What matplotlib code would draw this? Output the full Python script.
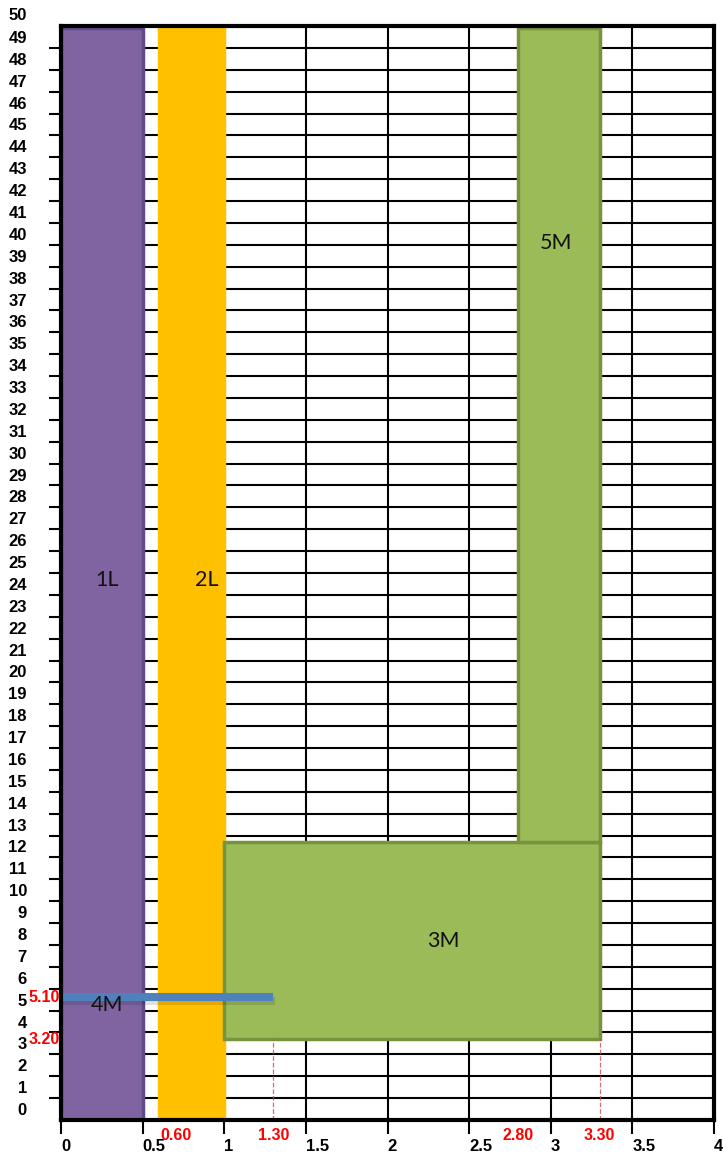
import matplotlib
matplotlib.use("Agg")
import matplotlib.pyplot as plt
import matplotlib.patheffects as pe
import numpy as np

# blok-blok pada denah (x kiri, x kanan, y bawah, y atas)
names = ["1L", "2L", "3M", "5M"]
x_left = [0.0, 0.60, 1.0, 2.80]
x_right = [0.5, 1.0, 3.30, 3.30]
y_bottom = [-0.5, -0.5, 3.20, 12.2]
y_top = [49.4, 49.4, 12.2, 49.4]
fills = ["#8064A2", "#FFC000", "#9BBB59", "#9BBB59"]
edges = ["#5F4B8B", "#FFC000", "#77933C", "#77933C"]

# garis 4M
line_x = [0.0, 1.30]
line_y = [5.10, 5.10]

# posisi teks label blok
label_names = ["1L", "2L", "5M", "3M", "4M"]
label_x = [0.28, 0.89, 3.03, 2.34, 0.28]
label_y = [24.2, 24.2, 39.6, 7.7, 4.75]

# angka merah di sumbu
x_marks = [0.60, 1.30, 2.80, 3.30]
x_mark_text = ["0.60", "1.30", "2.80", "3.30"]
y_marks = [5.10, 3.20]
y_mark_text = ["5.10", "3.20"]
dashed_x = [1.30, 3.30]

x_ticks = np.arange(0, 4.01, 0.5)
x_tick_text = ["0", "0.5", "1", "1.5", "2", "2.5", "3", "3.5", "4"]
y_ticks = list(range(0, 50))

fig = plt.figure(figsize=(7.23, 11.6), dpi=100)
ax = fig.add_axes([61 / 723, 40 / 1160, 653 / 723, 1094 / 1160])
ax.set_xlim(0, 4)
ax.set_ylim(-0.5, 49.5)

# grid
ax.set_xticks(x_ticks)
ax.set_xticklabels(x_tick_text, ha="left", fontweight="bold",
                   family="Liberation Sans", fontsize=12)
ax.set_yticks(y_ticks)
ax.set_yticklabels([str(v) for v in y_ticks], fontweight="bold",
                   family="Liberation Sans", fontsize=12)
ax.set_yticks(np.arange(0.5, 49.0, 1.0), minor=True)
ax.tick_params(axis="y", which="major", length=0, pad=24.5)
ax.tick_params(axis="y", which="minor", length=9, width=1.5, direction="out")
ax.tick_params(axis="x", which="major", length=10, width=1.5, direction="out", pad=4)
ax.grid(True, axis="x", which="major", color="black", linewidth=1.5, zorder=0)
ax.grid(True, axis="y", which="minor", color="black", linewidth=1.5, zorder=0)
ax.set_axisbelow(True)
for s in ax.spines.values():
    s.set_linewidth(3)
    s.set_zorder(5)

# blok
for i in range(len(names)):
    ax.bar(x_left[i], y_top[i] - y_bottom[i], width=x_right[i] - x_left[i],
           bottom=y_bottom[i], align="edge", color=fills[i],
           edgecolor=edges[i], linewidth=2.5, zorder=2)

# garis 4M dengan bayangan tipis
ax.plot(line_x, line_y, color="#4F81BD", linewidth=5.8, solid_capstyle="butt",
        zorder=4, path_effects=[pe.SimpleLineShadow(offset=(1, -2.5), alpha=0.12),
                                pe.Normal()])

# garis putus-putus merah
for xv in dashed_x:
    ax.plot([xv, xv], [-0.5, 3.2], color="#C0504D", linestyle="--",
            linewidth=0.9, alpha=0.8, zorder=3)

# label blok
for n, lx, ly in zip(label_names, label_x, label_y):
    ax.text(lx, ly, n, ha="center", va="center", fontsize=15.5,
            family="Lato", color="#111111", zorder=6)

# angka merah
for xv, t in zip(x_marks, x_mark_text):
    ax.annotate(t, xy=(xv, -0.5), xycoords="data",
                xytext=(12 if t == "0.60" else 0, -11), textcoords="offset points",
                ha="center", va="center", color="red", fontweight="bold",
                family="Liberation Sans", fontsize=11.5, annotation_clip=False)
for yv, t in zip(y_marks, y_mark_text):
    ax.annotate(t, xy=(0, yv), xycoords=("axes fraction", "data"),
                xytext=(-1, 0), textcoords="offset points",
                ha="right", va="center", color="red", fontweight="bold",
                family="Liberation Sans", fontsize=11.5, annotation_clip=False)

# label 50 di atas sumbu
ax.annotate("50", xy=(0, 50), xycoords=("axes fraction", "data"),
            xytext=(-24.5, 0), textcoords="offset points", ha="right",
            va="center", fontweight="bold", family="Liberation Sans",
            fontsize=12, annotation_clip=False)

fig.savefig("out.png", dpi=100)
